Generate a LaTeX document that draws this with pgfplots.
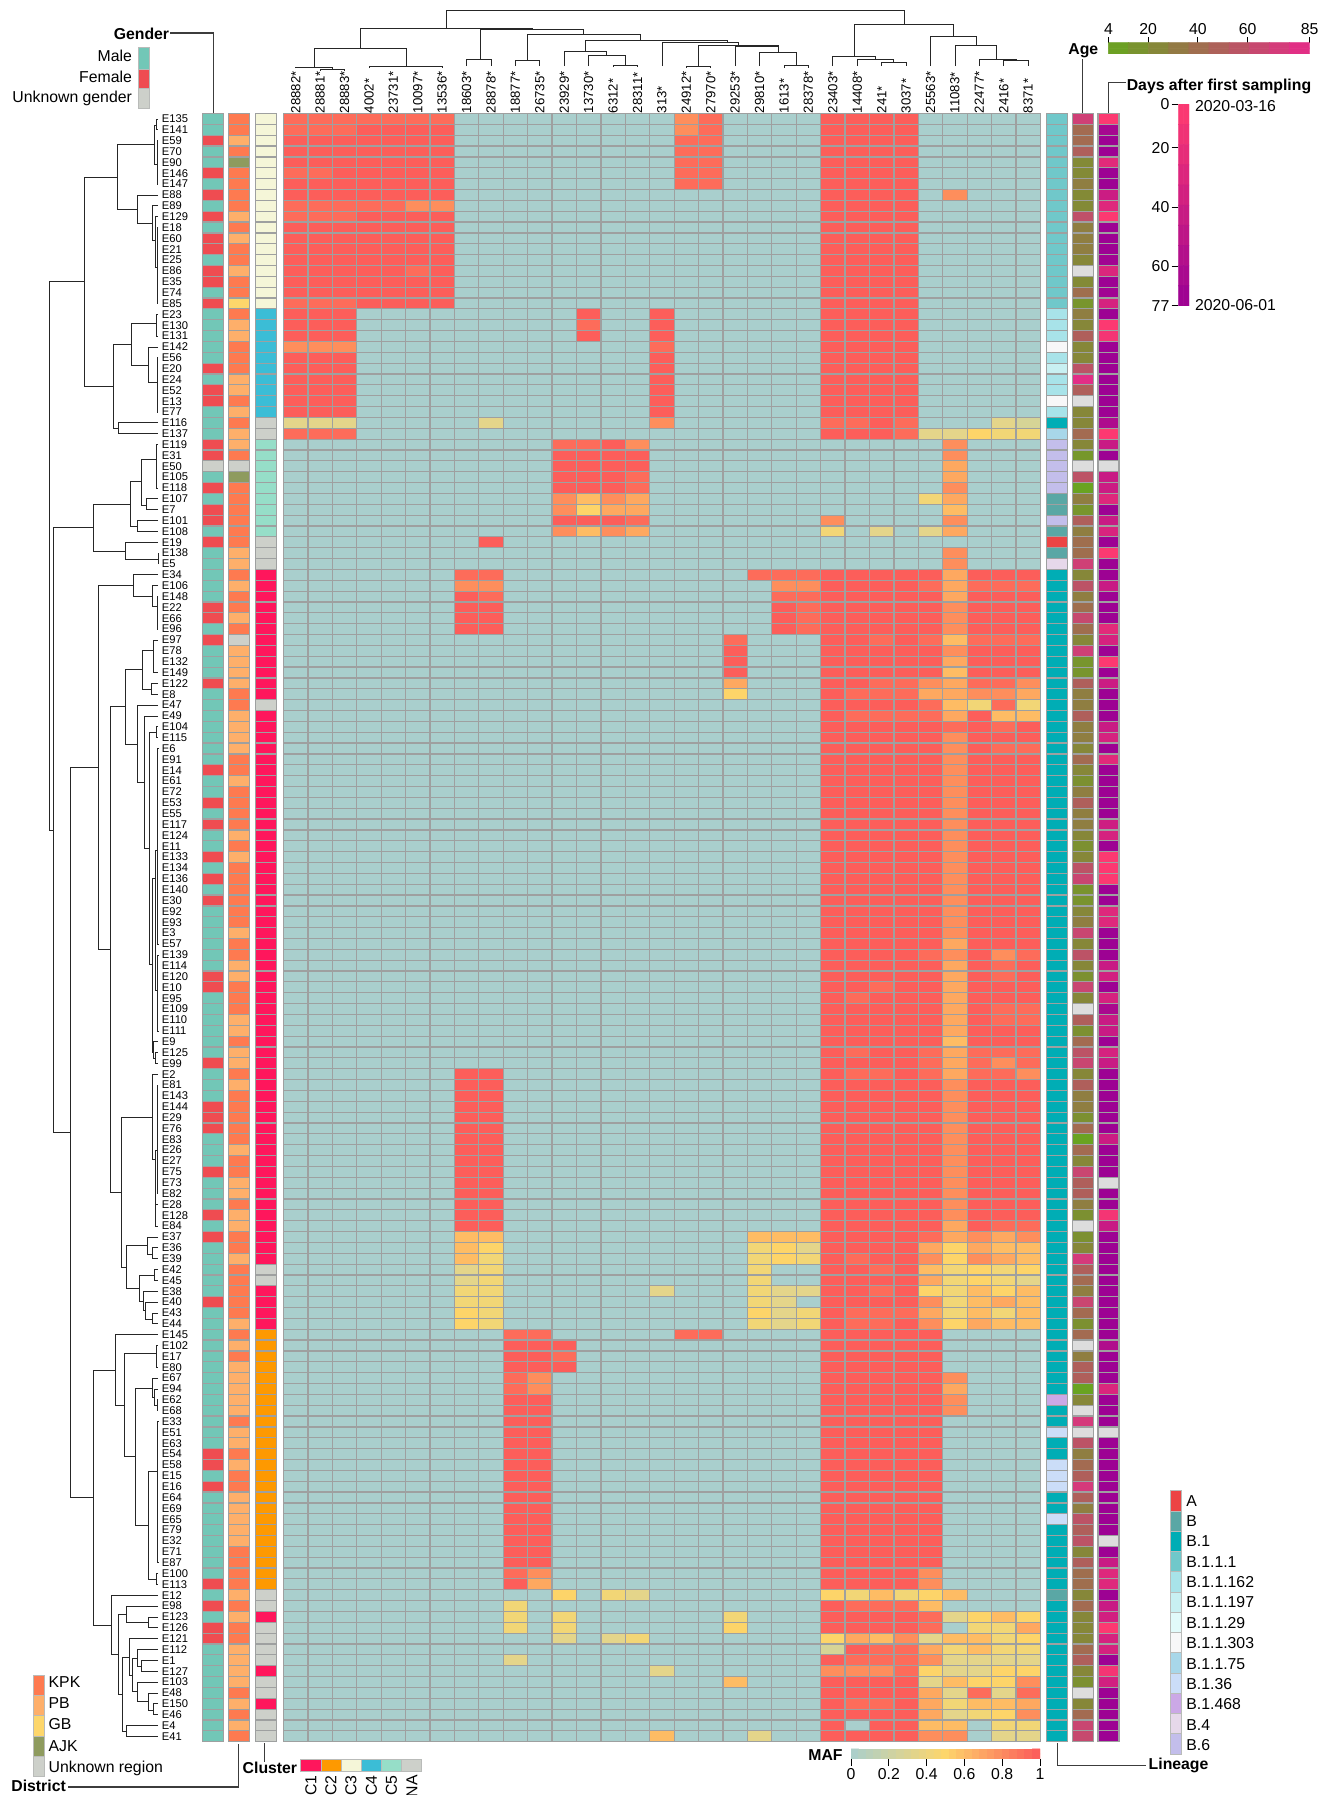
\documentclass[border=0pt]{standalone}
\usepackage{fontspec}
\setmainfont{Liberation Sans}
\usepackage{pgfplots}
\usepackage{pgfplotstable}
\pgfplotsset{compat=1.18}
\definecolor{cellgray}{RGB}{158,160,160}
\definecolor{swgray}{RGB}{185,187,185}
\definecolor{lnk}{RGB}{60,60,60}
\newcommand\lgf{\fontsize{7.9}{9}\selectfont}
\newcommand\bdf{\fontsize{7.9}{9}\selectfont\bfseries}
\pgfdeclareplotmark{cellM}{\pgfpathrectangle{\pgfpoint{-6.105pt}{-2.714pt}}{\pgfpoint{12.21pt}{5.428pt}}\pgfusepathqfillstroke}
\pgfdeclareplotmark{cellA}{\pgfpathrectangle{\pgfpoint{-5.25pt}{-2.714pt}}{\pgfpoint{10.5pt}{5.428pt}}\pgfusepathqfillstroke}
% name gender district cluster lineage age days, then MAF bins (0 none ... 9 close to 1) of the 31 positions
\pgfplotstableread{
name g d k l a t c1 c2 c3 c4 c5 c6 c7 c8 c9 c10 c11 c12 c13 c14 c15 c16 c17 c18 c19 c20 c21 c22 c23 c24 c25 c26 c27 c28 c29 c30 c31
E135 0 0 2 3 70 2   8 8 8 8 8 8 8  0 0  0 0  0 0 0 0  0  7 8  0  0 0 0  9 9 9 9  0  0  0 0 0
E141 0 0 2 3 42 68  8 8 8 9 9 9 9  0 0  0 0  0 0 0 0  0  7 8  0  0 0 0  9 9 9 9  0  0  0 0 0
E59 1 1 2 3 42 75   9 9 9 9 9 9 9  0 0  0 0  0 0 0 0  0  8 8  0  0 0 0  9 9 9 9  0  0  0 0 0
E70 0 0 2 3 50 75   9 9 9 9 9 9 9  0 0  0 0  0 0 0 0  0  8 8  0  0 0 0  9 9 9 9  0  0  0 0 0
E90 0 3 2 3 22 22   9 9 9 9 9 9 9  0 0  0 0  0 0 0 0  0  8 8  0  0 0 0  9 9 9 9  0  0  0 0 0
E146 1 0 2 3 22 75  8 8 9 9 9 9 9  0 0  0 0  0 0 0 0  0  8 8  0  0 0 0  9 9 9 9  0  0  0 0 0
E147 0 0 2 3 30 75  9 9 9 9 9 9 9  0 0  0 0  0 0 0 0  0  8 8  0  0 0 0  9 9 9 9  0  0  0 0 0
E88 1 0 2 3 22 40   9 9 9 9 9 9 9  0 0  0 0  0 0 0 0  0  0 0  0  0 0 0  9 9 9 9  0  7  0 0 0
E89 0 0 2 3 22 25   8 8 8 8 8 7 7  0 0  0 0  0 0 0 0  0  0 0  0  0 0 0  9 9 9 9  0  0  0 0 0
E129 1 1 2 3 60 2   8 8 8 9 9 9 9  0 0  0 0  0 0 0 0  0  0 0  0  0 0 0  9 9 9 9  0  0  0 0 0
E18 0 0 2 3 30 75   9 9 9 9 9 9 9  0 0  0 0  0 0 0 0  0  0 0  0  0 0 0  9 9 9 9  0  0  0 0 0
E60 1 1 2 3 30 75   9 9 9 9 9 9 9  0 0  0 0  0 0 0 0  0  0 0  0  0 0 0  9 9 9 9  0  0  0 0 0
E21 1 0 2 3 30 75   9 9 9 9 9 9 9  0 0  0 0  0 0 0 0  0  0 0  0  0 0 0  9 9 9 9  0  0  0 0 0
E25 0 0 2 3 24 72   9 9 9 9 9 9 9  0 0  0 0  0 0 0 0  0  0 0  0  0 0 0  9 9 9 9  0  0  0 0 0
E86 1 1 2 3 0 28    9 9 9 9 9 8 9  0 0  0 0  0 0 0 0  0  0 0  0  0 0 0  9 9 9 9  0  0  0 0 0
E35 1 0 2 3 22 75   9 9 9 9 9 9 9  0 0  0 0  0 0 0 0  0  0 0  0  0 0 0  9 9 9 9  0  0  0 0 0
E74 0 0 2 3 40 72   9 9 9 9 9 9 9  0 0  0 0  0 0 0 0  0  0 0  0  0 0 0  9 9 9 9  0  0  0 0 0
E85 1 2 2 3 15 32   8 8 8 9 9 9 9  0 0  0 0  0 0 0 0  0  0 0  0  0 0 0  9 9 9 9  0  0  0 0 0
E23 0 0 3 4 30 75   9 9 9 0 0 0 0  0 0  0 0  0 9 0 0  9  0 0  0  0 0 0  9 9 9 9  0  0  0 0 0
E130 0 1 3 4 24 2   9 9 9 0 0 0 0  0 0  0 0  0 8 0 0  9  0 0  0  0 0 0  9 9 9 9  0  0  0 0 0
E131 0 1 3 4 50 8   9 9 9 0 0 0 0  0 0  0 0  0 9 0 0  9  0 0  0  0 0 0  9 9 9 9  0  0  0 0 0
E142 0 0 3 7 24 75  7 7 7 0 0 0 0  0 0  0 0  0 0 0 0  8  0 0  0  0 0 0  9 9 9 9  0  0  0 0 0
E56 0 0 3 4 24 75   9 9 9 0 0 0 0  0 0  0 0  0 0 0 0  9  0 0  0  0 0 0  9 9 9 9  0  0  0 0 0
E20 1 0 3 5 58 75   9 9 9 0 0 0 0  0 0  0 0  0 0 0 0  9  0 0  0  0 0 0  9 9 9 9  0  0  0 0 0
E24 0 1 3 4 82 75   9 9 9 0 0 0 0  0 0  0 0  0 0 0 0  9  0 0  0  0 0 0  9 9 9 9  0  0  0 0 0
E52 1 1 3 4 50 75   9 9 9 0 0 0 0  0 0  0 0  0 0 0 0  9  0 0  0  0 0 0  9 9 9 9  0  0  0 0 0
E13 1 0 3 7 0 75    9 9 9 0 0 0 0  0 0  0 0  0 0 0 0  9  0 0  0  0 0 0  9 9 9 9  0  0  0 0 0
E77 0 1 3 4 24 75   9 9 9 0 0 0 0  0 0  0 0  0 0 0 0  9  0 0  0  0 0 0  9 9 9 9  0  0  0 0 0
E116 0 0 5 2 24 62  2 2 2 0 0 0 0  0 2  0 0  0 0 0 0  7  0 0  0  0 0 0  8 8 9 8  0  0  0 2 1
E137 0 1 5 8 42 2   8 8 8 0 0 0 0  0 0  0 0  0 0 0 0  0  0 0  0  0 0 0  9 9 9 8  2  2  4 3 3
E119 1 1 4 12 24 42 0 0 0 0 0 0 0  0 0  0 0  8 8 9 7  0  0 0  0  0 0 0  0 0 0 0  0  7  0 0 0
E31 1 0 4 12 14 75  0 0 0 0 0 0 0  0 0  0 0  9 9 9 9  0  0 0  0  0 0 0  0 0 0 0  0  7  0 0 0
E50 2 4 4 12 0 -5   0 0 0 0 0 0 0  0 0  0 0  9 9 9 9  0  0 0  0  0 0 0  0 0 0 0  0  6  0 0 0
E105 0 3 4 12 58 42 0 0 0 0 0 0 0  0 0  0 0  9 9 9 8  0  0 0  0  0 0 0  0 0 0 0  0  6  0 0 0
E118 1 0 4 12 6 40  0 0 0 0 0 0 0  0 0  0 0  9 9 9 8  0  0 0  0  0 0 0  0 0 0 0  0  7  0 0 0
E107 0 0 4 1 30 25  0 0 0 0 0 0 0  0 0  0 0  7 5 7 6  0  0 0  0  0 0 0  0 0 0 0  3  6  0 0 0
E7 1 0 4 1 15 75    0 0 0 0 0 0 0  0 0  0 0  7 4 6 6  0  0 0  0  0 0 0  0 0 0 0  0  5  0 0 0
E101 1 0 4 12 50 42 0 0 0 0 0 0 0  0 0  0 0  9 9 9 8  0  0 0  0  0 0 0  7 0 0 0  0  7  0 0 0
E108 0 0 4 1 30 30  0 0 0 0 0 0 0  0 0  0 0  7 5 7 6  0  0 0  0  0 0 0  3 0 2 0  2  6  0 0 0
E19 1 0 5 0 40 75   0 0 0 0 0 0 0  0 9  0 0  0 0 0 0  0  0 0  0  0 0 0  0 0 0 0  0  0  0 0 0
E138 0 1 5 1 40 2   0 0 0 0 0 0 0  0 0  0 0  0 0 0 0  0  0 0  0  0 0 0  0 0 0 0  0  7  0 0 0
E5 0 1 5 11 70 75   0 0 0 0 0 0 0  0 0  0 0  0 0 0 0  0  0 0  0  0 0 0  0 0 0 0  0  7  0 0 0
E34 0 0 0 2 24 75   0 0 0 0 0 0 0  8 8  0 0  0 0 0 0  0  0 0  0  8 8 8  9 9 9 9  9  6  9 9 9
E106 0 1 0 2 58 42  0 0 0 0 0 0 0  7 7  0 0  0 0 0 0  0  0 0  0  0 7 7  9 9 9 9  8  6  8 8 8
E148 0 0 0 2 30 75  0 0 0 0 0 0 0  9 8  0 0  0 0 0 0  0  0 0  0  0 8 8  9 9 9 9  9  6  9 9 9
E22 1 0 0 2 40 75   0 0 0 0 0 0 0  9 9  0 0  0 0 0 0  0  0 0  0  0 9 8  9 9 9 9  9  7  9 9 9
E66 1 1 0 2 64 75   0 0 0 0 0 0 0  9 9  0 0  0 0 0 0  0  0 0  0  0 9 8  9 9 9 9  9  7  9 9 9
E96 0 0 0 2 40 22   0 0 0 0 0 0 0  9 9  0 0  0 0 0 0  0  0 0  0  0 9 8  9 9 9 9  9  7  9 9 9
E97 1 4 0 2 24 32   0 0 0 0 0 0 0  0 0  0 0  0 0 0 0  0  0 0  8  0 0 0  9 9 8 9  8  5  8 8 8
E78 0 1 0 2 70 75   0 0 0 0 0 0 0  0 0  0 0  0 0 0 0  0  0 0  9  0 0 0  9 9 9 9  9  7  9 9 9
E132 0 1 0 2 15 2   0 0 0 0 0 0 0  0 0  0 0  0 0 0 0  0  0 0  9  0 0 0  9 9 9 9  9  6  9 9 9
E149 0 1 0 2 15 75  0 0 0 0 0 0 0  0 0  0 0  0 0 0 0  0  0 0  9  0 0 0  9 9 9 9  9  5  9 9 9
E122 1 1 0 2 50 40  0 0 0 0 0 0 0  0 0  0 0  0 0 0 0  0  0 0  6  0 0 0  9 9 8 8  7  6  8 8 7
E8 0 0 0 2 30 75    0 0 0 0 0 0 0  0 0  0 0  0 0 0 0  0  0 0  4  0 0 0  9 8 8 8  6  6  7 7 6
E47 0 0 5 2 30 75   0 0 0 0 0 0 0  0 0  0 0  0 0 0 0  0  0 0  0  0 0 0  9 9 9 9  8  5  3 8 3
E49 0 1 0 2 50 75   0 0 0 0 0 0 0  0 0  0 0  0 0 0 0  0  0 0  0  0 0 0  9 8 8 8  8  6  9 5 5
E104 0 1 0 2 30 42  0 0 0 0 0 0 0  0 0  0 0  0 0 0 0  0  0 0  0  0 0 0  9 9 9 9  9  8  9 8 9
E115 0 1 0 2 30 32  0 0 0 0 0 0 0  0 0  0 0  0 0 0 0  0  0 0  0  0 0 0  9 9 9 9  9  7  9 9 9
E6 0 1 0 2 24 75    0 0 0 0 0 0 0  0 0  0 0  0 0 0 0  0  0 0  0  0 0 0  9 9 9 9  9  7  9 8 8
E91 0 0 0 2 42 22   0 0 0 0 0 0 0  0 0  0 0  0 0 0 0  0  0 0  0  0 0 0  9 9 9 9  9  7  9 9 9
E14 1 0 0 2 24 75   0 0 0 0 0 0 0  0 0  0 0  0 0 0 0  0  0 0  0  0 0 0  9 9 9 9  9  7  9 9 9
E61 0 1 0 2 18 75   0 0 0 0 0 0 0  0 0  0 0  0 0 0 0  0  0 0  0  0 0 0  9 9 9 9  9  7  9 9 9
E72 0 0 0 2 30 75   0 0 0 0 0 0 0  0 0  0 0  0 0 0 0  0  0 0  0  0 0 0  9 9 9 9  9  7  9 9 9
E53 1 0 0 2 50 75   0 0 0 0 0 0 0  0 0  0 0  0 0 0 0  0  0 0  0  0 0 0  9 9 9 9  9  7  9 9 9
E55 0 0 0 2 30 75   0 0 0 0 0 0 0  0 0  0 0  0 0 0 0  0  0 0  0  0 0 0  9 9 9 9  9  7  9 9 9
E117 1 0 0 2 30 38  0 0 0 0 0 0 0  0 0  0 0  0 0 0 0  0  0 0  0  0 0 0  9 9 9 9  9  7  9 9 9
E124 0 1 0 2 24 32  0 0 0 0 0 0 0  0 0  0 0  0 0 0 0  0  0 0  0  0 0 0  9 9 9 9  9  7  9 9 9
E11 0 0 0 2 18 75   0 0 0 0 0 0 0  0 0  0 0  0 0 0 0  0  0 0  0  0 0 0  9 9 9 9  9  7  9 9 9
E133 1 1 0 2 24 2   0 0 0 0 0 0 0  0 0  0 0  0 0 0 0  0  0 0  0  0 0 0  9 9 9 9  9  7  9 9 9
E134 0 0 0 2 58 2   0 0 0 0 0 0 0  0 0  0 0  0 0 0 0  0  0 0  0  0 0 0  9 9 9 9  9  7  9 9 9
E136 1 0 0 2 66 2   0 0 0 0 0 0 0  0 0  0 0  0 0 0 0  0  0 0  0  0 0 0  9 9 9 9  9  7  9 9 9
E140 0 0 0 2 16 75  0 0 0 0 0 0 0  0 0  0 0  0 0 0 0  0  0 0  0  0 0 0  9 9 9 9  9  7  9 9 9
E30 1 0 0 2 16 75   0 0 0 0 0 0 0  0 0  0 0  0 0 0 0  0  0 0  0  0 0 0  9 9 9 9  9  7  9 9 9
E92 0 0 0 2 24 25   0 0 0 0 0 0 0  0 0  0 0  0 0 0 0  0  0 0  0  0 0 0  9 9 9 9  9  7  9 9 9
E93 0 0 0 2 30 25   0 0 0 0 0 0 0  0 0  0 0  0 0 0 0  0  0 0  0  0 0 0  9 9 9 9  9  7  9 9 9
E3 0 1 0 2 66 75    0 0 0 0 0 0 0  0 0  0 0  0 0 0 0  0  0 0  0  0 0 0  9 9 9 9  9  7  9 9 9
E57 0 0 0 2 24 75   0 0 0 0 0 0 0  0 0  0 0  0 0 0 0  0  0 0  0  0 0 0  9 9 9 9  9  6  9 9 9
E139 0 0 0 2 58 75  0 0 0 0 0 0 0  0 0  0 0  0 0 0 0  0  0 0  0  0 0 0  9 9 9 9  8  7  9 7 8
E114 0 1 0 2 24 42  0 0 0 0 0 0 0  0 0  0 0  0 0 0 0  0  0 0  0  0 0 0  9 9 9 9  9  6  9 8 9
E120 1 1 0 2 18 35  0 0 0 0 0 0 0  0 0  0 0  0 0 0 0  0  0 0  0  0 0 0  9 9 9 9  9  6  9 8 9
E10 1 0 0 2 66 75   0 0 0 0 0 0 0  0 0  0 0  0 0 0 0  0  0 0  0  0 0 0  9 9 8 9  9  6  9 9 9
E95 0 0 0 2 24 32   0 0 0 0 0 0 0  0 0  0 0  0 0 0 0  0  0 0  0  0 0 0  9 8 9 9  9  6  9 9 9
E109 0 0 0 2 0 65   0 0 0 0 0 0 0  0 0  0 0  0 0 0 0  0  0 0  0  0 0 0  9 9 9 9  9  6  9 8 8
E110 0 1 0 2 50 42  0 0 0 0 0 0 0  0 0  0 0  0 0 0 0  0  0 0  0  0 0 0  9 9 9 9  9  6  9 8 8
E111 0 1 0 2 18 42  0 0 0 0 0 0 0  0 0  0 0  0 0 0 0  0  0 0  0  0 0 0  9 9 9 9  9  6  9 9 9
E9 0 0 0 2 42 75    0 0 0 0 0 0 0  0 0  0 0  0 0 0 0  0  0 0  0  0 0 0  9 9 9 9  9  5  9 9 9
E125 0 1 0 2 58 32  0 0 0 0 0 0 0  0 0  0 0  0 0 0 0  0  0 0  0  0 0 0  9 8 9 9  8  6  8 8 8
E99 1 1 0 2 66 42   0 0 0 0 0 0 0  0 0  0 0  0 0 0 0  0  0 0  0  0 0 0  9 9 9 9  8  6  8 7 8
E2 0 0 0 2 24 75    0 0 0 0 0 0 0  9 9  0 0  0 0 0 0  0  0 0  0  0 0 0  9 8 8 9  8  6  8 8 7
E81 0 1 0 2 50 75   0 0 0 0 0 0 0  9 9  0 0  0 0 0 0  0  0 0  0  0 0 0  9 9 9 9  9  7  9 9 9
E143 0 0 0 2 30 75  0 0 0 0 0 0 0  9 9  0 0  0 0 0 0  0  0 0  0  0 0 0  9 9 9 9  9  7  9 9 9
E144 1 0 0 2 30 75  0 0 0 0 0 0 0  9 9  0 0  0 0 0 0  0  0 0  0  0 0 0  9 9 9 9  9  7  9 9 9
E29 1 0 0 2 18 75   0 0 0 0 0 0 0  9 9  0 0  0 0 0 0  0  0 0  0  0 0 0  9 9 9 9  9  7  9 9 9
E76 1 0 0 2 42 75   0 0 0 0 0 0 0  9 9  0 0  0 0 0 0  0  0 0  0  0 0 0  9 9 9 9  9  7  9 9 9
E83 0 0 0 2 6 40    0 0 0 0 0 0 0  9 9  0 0  0 0 0 0  0  0 0  0  0 0 0  9 9 9 9  9  7  9 9 9
E26 0 1 0 2 42 75   0 0 0 0 0 0 0  9 9  0 0  0 0 0 0  0  0 0  0  0 0 0  9 9 9 9  9  7  9 9 9
E27 0 0 0 2 24 75   0 0 0 0 0 0 0  9 9  0 0  0 0 0 0  0  0 0  0  0 0 0  9 9 9 9  9  7  9 9 9
E75 1 0 0 2 66 75   0 0 0 0 0 0 0  9 9  0 0  0 0 0 0  0  0 0  0  0 0 0  9 9 9 9  9  7  9 9 9
E73 0 1 0 2 50 -5   0 0 0 0 0 0 0  9 9  0 0  0 0 0 0  0  0 0  0  0 0 0  9 9 9 9  9  7  9 9 9
E82 0 1 0 2 50 75   0 0 0 0 0 0 0  9 9  0 0  0 0 0 0  0  0 0  0  0 0 0  9 9 9 9  9  7  9 9 9
E28 0 0 0 2 30 75   0 0 0 0 0 0 0  9 9  0 0  0 0 0 0  0  0 0  0  0 0 0  9 9 9 9  9  7  9 9 9
E128 1 1 0 2 18 8   0 0 0 0 0 0 0  9 9  0 0  0 0 0 0  0  0 0  0  0 0 0  9 9 9 9  9  7  9 9 9
E84 0 1 0 2 0 42    0 0 0 0 0 0 0  9 9  0 0  0 0 0 0  0  0 0  0  0 0 0  9 9 9 9  9  6  9 8 8
E37 1 0 0 2 18 75   0 0 0 0 0 0 0  5 5  0 0  0 0 0 0  0  0 0  0  5 5 5  9 9 9 9  8  6  7 6 7
E36 0 0 0 2 24 75   0 0 0 0 0 0 0  5 4  0 0  0 0 0 0  0  0 0  0  3 4 2  9 9 9 9  6  4  6 5 5
E39 0 1 0 2 74 75   0 0 0 0 0 0 0  5 3  0 0  0 0 0 0  0  0 0  0  3 4 3  9 8 9 9  7  4  7 6 5
E42 0 0 5 2 50 75   0 0 0 0 0 0 0  2 3  0 0  0 0 0 0  0  0 0  0  3 0 0  9 9 8 9  5  3  4 3 4
E45 0 0 5 2 42 75   0 0 0 0 0 0 0  2 3  0 0  0 0 0 0  0  0 0  0  3 0 0  9 9 9 9  6  3  4 3 2
E38 0 0 0 2 30 75   0 0 0 0 0 0 0  3 3  0 0  0 0 0 0  2  0 0  0  3 2 2  9 9 8 9  4  3  5 4 5
E40 1 0 0 2 66 75   0 0 0 0 0 0 0  3 3  0 0  0 0 0 0  0  0 0  0  3 2 0  9 9 9 9  7  3  5 6 5
E43 0 0 0 2 42 75   0 0 0 0 0 0 0  4 3  0 0  0 0 0 0  0  0 0  0  4 2 3  9 8 8 8  6  3  5 3 5
E44 0 1 0 2 18 75   0 0 0 0 0 0 0  4 3  0 0  0 0 0 0  0  0 0  0  3 2 3  9 8 8 9  7  4  6 5 5
E145 0 0 1 2 42 75  0 0 0 0 0 0 0  0 0  8 8  0 0 0 0  0  8 8  0  0 0 0  9 9 9 9  9  0  0 0 0
E102 0 1 1 2 0 60   0 0 0 0 0 0 0  0 0  9 9  9 0 0 0  0  0 0  0  0 0 0  9 9 9 9  9  0  0 0 0
E17 0 0 1 2 30 75   0 0 0 0 0 0 0  0 0  9 9  8 0 0 0  0  0 0  0  0 0 0  9 9 9 9  9  0  0 0 0
E80 0 1 1 2 50 75   0 0 0 0 0 0 0  0 0  9 9  9 0 0 0  0  0 0  0  0 0 0  9 9 9 9  9  0  0 0 0
E67 0 1 1 2 50 75   0 0 0 0 0 0 0  0 0  8 7  0 0 0 0  0  0 0  0  0 0 0  9 9 9 9  9  7  0 0 0
E94 0 1 1 2 6 28    0 0 0 0 0 0 0  0 0  8 7  0 0 0 0  0  0 0  0  0 0 0  9 9 9 9  9  6  0 0 0
E62 0 1 1 10 24 75  0 0 0 0 0 0 0  0 0  9 9  0 0 0 0  0  0 0  0  0 0 0  9 9 9 9  9  7  0 0 0
E68 0 1 1 2 0 75    0 0 0 0 0 0 0  0 0  9 9  0 0 0 0  0  0 0  0  0 0 0  9 9 9 9  9  7  0 0 0
E33 0 0 1 2 74 75   0 0 0 0 0 0 0  0 0  9 9  0 0 0 0  0  0 0  0  0 0 0  9 9 9 9  9  0  0 0 0
E51 0 1 1 9 0 -5    0 0 0 0 0 0 0  0 0  9 9  0 0 0 0  0  0 0  0  0 0 0  9 9 9 9  9  0  0 0 0
E63 0 1 1 2 58 75   0 0 0 0 0 0 0  0 0  9 9  0 0 0 0  0  0 0  0  0 0 0  9 9 9 9  9  0  0 0 0
E54 1 0 1 2 30 75   0 0 0 0 0 0 0  0 0  9 9  0 0 0 0  0  0 0  0  0 0 0  9 9 9 9  9  0  0 0 0
E58 1 1 1 9 42 75   0 0 0 0 0 0 0  0 0  9 9  0 0 0 0  0  0 0  0  0 0 0  9 9 9 9  9  0  0 0 0
E15 0 0 1 9 50 75   0 0 0 0 0 0 0  0 0  9 9  0 0 0 0  0  0 0  0  0 0 0  9 9 9 9  9  0  0 0 0
E16 1 0 1 9 74 75   0 0 0 0 0 0 0  0 0  9 9  0 0 0 0  0  0 0  0  0 0 0  9 9 9 9  9  0  0 0 0
E64 0 1 1 2 50 75   0 0 0 0 0 0 0  0 0  9 9  0 0 0 0  0  0 0  0  0 0 0  9 9 9 9  9  0  0 0 0
E69 0 1 1 2 30 75   0 0 0 0 0 0 0  0 0  9 9  0 0 0 0  0  0 0  0  0 0 0  9 9 9 9  9  0  0 0 0
E65 0 1 1 9 58 75   0 0 0 0 0 0 0  0 0  9 9  0 0 0 0  0  0 0  0  0 0 0  9 9 9 9  9  0  0 0 0
E79 0 1 1 2 50 75   0 0 0 0 0 0 0  0 0  9 9  0 0 0 0  0  0 0  0  0 0 0  9 9 9 9  9  0  0 0 0
E32 0 1 1 2 58 -5   0 0 0 0 0 0 0  0 0  9 9  0 0 0 0  0  0 0  0  0 0 0  9 9 9 9  9  0  0 0 0
E71 0 0 1 2 24 75   0 0 0 0 0 0 0  0 0  9 9  0 0 0 0  0  0 0  0  0 0 0  9 9 9 9  9  0  0 0 0
E87 0 0 1 2 50 42   0 0 0 0 0 0 0  0 0  9 9  0 0 0 0  0  0 0  0  0 0 0  9 9 9 9  9  0  0 0 0
E100 0 0 1 2 40 25  0 0 0 0 0 0 0  0 0  8 7  0 0 0 0  0  0 0  0  0 0 0  9 9 9 9  7  0  0 0 0
E113 1 0 1 2 40 25  0 0 0 0 0 0 0  0 0  9 6  0 0 0 0  0  0 0  0  0 0 0  9 9 9 9  7  0  0 0 0
E12 0 1 5 1 24 75   0 0 0 0 0 0 0  0 0  0 0  4 0 3 2  0  0 0  0  0 0 0  4 3 5 3  4  5  0 0 0
E98 1 0 5 2 42 42   0 0 0 0 0 0 0  0 0  3 0  0 0 0 0  0  0 0  0  0 0 0  9 8 8 8  5  0  0 0 0
E123 0 1 0 2 24 35  0 0 0 0 0 0 0  0 0  3 0  3 0 0 0  0  0 0  3  0 0 0  9 9 9 9  8  2  4 5 4
E126 1 0 5 2 24 2   0 0 0 0 0 0 0  0 0  3 0  3 0 0 0  0  0 0  4  0 0 0  9 9 9 9  8  0  3 3 6
E121 1 0 5 2 24 32  0 0 0 0 0 0 0  0 0  0 0  2 0 2 3  0  0 0  0  0 0 0  4 6 5 7  2  5  5 3 4
E112 0 1 5 2 42 32  0 0 0 0 0 0 0  0 0  0 0  0 0 0 0  0  0 0  0  0 0 0  1 9 8 8  6  3  5 3 3
E1 0 1 5 2 50 75    0 0 0 0 0 0 0  0 0  2 0  0 0 0 0  0  0 0  0  0 0 0  9 8 8 8  7  2  2 2 2
E127 0 1 0 2 24 8   0 0 0 0 0 0 0  0 0  0 0  0 0 0 0  2  0 0  0  0 0 0  7 7 7 8  4  2  2 4 4
E103 0 1 5 2 18 35  0 0 0 0 0 0 0  0 0  0 0  0 0 0 0  0  0 0  5  0 0 0  9 9 9 9  2  5  4 4 7
E48 0 0 5 2 0 75    0 0 0 0 0 0 0  0 0  0 0  0 0 0 0  0  0 0  0  0 0 0  9 9 9 9  6  2  8 2 8
E150 0 1 0 2 24 75  0 0 0 0 0 0 0  0 0  0 0  0 0 0 0  0  0 0  0  0 0 0  9 8 8 9  6  3  5 5 6
E46 0 0 5 2 42 75   0 0 0 0 0 0 0  0 0  0 0  0 0 0 0  0  0 0  0  0 0 0  9 9 9 9  6  2  3 4 7
E4 0 1 5 2 66 75    0 0 0 0 0 0 0  0 0  0 0  0 0 0 0  0  0 0  0  0 0 0  9 0 9 9  5  5  0 3 3
E41 0 0 5 2 64 75   0 0 0 0 0 0 0  0 0  0 0  0 0 0 0  5  0 0  0  2 0 0  9 9 9 9  7  7  0 2 2
}\heat
\newcommand\swatch[5]{\addplot[no markers,fill={#5},draw=swgray,line width=.5pt] coordinates {(#1,#2)(#3,#2)(#3,#4)(#1,#4)} --cycle;}
\newcommand\lnkline[1]{\addplot[no markers,color=lnk,line width=.55pt] coordinates {#1};}
% one annotation column: centre x in px, column, colormap, meta min, meta max, extras
\newcommand\annot[6]{%
\begin{axis}[at={({(#1-10.5)*0.5pt},{53.3*0.5pt})},anchor=south west,scale only axis,width=10.5pt,height=814.1pt,
 xmin=-0.5,xmax=0.5,ymin=-0.5,ymax=149.5,y dir=reverse,clip=false,axis line style={draw=none},major tick length=0pt,
 xtick=\empty,ytick=\empty,colormap={cm#2}{#3},point meta min=#4,point meta max=#5,#6]
\addplot[scatter,only marks,scatter src=explicit,mark=cellA,mark options={solid,line width=.6pt},
 scatter/use mapped color={draw=cellgray,fill=mapped color}] table[x expr=0,y expr=\coordindex,meta=#2]{\heat};
\end{axis}}
\begin{document}
\begin{tikzpicture}[x=1pt,y=1pt]
\path[use as bounding box] (0,0) rectangle (666.5pt,897.5pt);
% page axis in pixel units: trees, keys and their titles
\begin{axis}[at={(0,0)},anchor=south west,scale only axis,width=666.5pt,height=897.5pt,xmin=0,xmax=1333,ymin=0,ymax=1795,y dir=reverse,hide axis,clip=false]
% row tree
\addplot[no markers,unbounded coords=jump,color=black!85,line width=.5pt] coordinates {
(84.7,281.7)(49.3,281.7)(49.3,830)(53.7,830)(nan,nan)
(117,177)(84.7,177)(84.7,386.7)(113,386.7)(nan,nan)
(154,144.7)(117,144.7)(117,209.3)(137,209.3)(nan,nan)
(156.7,125)(154,125)(154,164)(157.3,164)(nan,nan)
(158,119)(156.7,119)(156.7,129.9)(158,129.9)(nan,nan)
(158,140.7)(157.3,140.7)(157.3,184.1)(158,184.1)(nan,nan)
(158,195)(137,195)(137,223.3)(152.3,223.3)(nan,nan)
(158,205.8)(152.3,205.8)(152.3,240)(155.7,240)(nan,nan)
(158,216.7)(155.7,216.7)(155.7,267)(157.3,267)(nan,nan)
(158,227.6)(157.3,227.6)(157.3,303.5)(158,303.5)(nan,nan)
(131,344.3)(113,344.3)(113,428.3)(118.3,428.3)(nan,nan)
(156.7,323)(131,323)(131,365.3)(148.3,365.3)(nan,nan)
(158,314.4)(156.7,314.4)(156.7,336.1)(158,336.1)(nan,nan)
(158,347)(148.3,347)(148.3,382.3)(157.3,382.3)(nan,nan)
(158,357.8)(157.3,357.8)(157.3,412.1)(158,412.1)(nan,nan)
(158,422.9)(118.3,422.9)(118.3,433.8)(158,433.8)(nan,nan)
(93.3,527.7)(53.7,527.7)(53.7,1132.7)(70,1132.7)(nan,nan)
(130.7,504.3)(93.3,504.3)(93.3,551)(125,551)(nan,nan)
(141.3,481.7)(130.7,481.7)(130.7,526.7)(137.3,526.7)(nan,nan)
(158,520.6)(137.3,520.6)(137.3,531.5)(158,531.5)(nan,nan)
(156,459)(141.3,459)(141.3,505)(146,505)(nan,nan)
(158,444.7)(156,444.7)(156,488.1)(158,488.1)(nan,nan)
(158,498.9)(146,498.9)(146,509.8)(158,509.8)(nan,nan)
(158,542.3)(125,542.3)(125,559)(158,559)(nan,nan)
(158.3,553.2)(158.3,564.1)(nan,nan)
(98.3,767.7)(70,767.7)(70,1497.7)(93.3,1497.7)(nan,nan)
(133.7,585.7)(98.3,585.7)(98.3,949.3)(110,949.3)(nan,nan)
(158,574.9)(133.7,574.9)(133.7,596.3)(152.3,596.3)(nan,nan)
(158,585.8)(152.3,585.8)(152.3,606.7)(157.3,606.7)(nan,nan)
(158,596.6)(157.3,596.6)(157.3,629.2)(158,629.2)(nan,nan)
(125.7,706.7)(110,706.7)(110,1192)(121.3,1192)(nan,nan)
(142.3,669.3)(125.7,669.3)(125.7,744.3)(137.3,744.3)(nan,nan)
(153.7,650)(142.3,650)(142.3,689.3)(151,689.3)(nan,nan)
(158,640)(153.7,640)(153.7,672.6)(158,672.6)(nan,nan)
(158,683.5)(151,683.5)(151,694.3)(158,694.3)(nan,nan)
(158,705.2)(137.3,705.2)(137.3,782.3)(144.3,782.3)(nan,nan)
(158,716)(144.3,716)(144.3,848.7)(149,848.7)(nan,nan)
(156,732.7)(149,732.7)(149,964.3)(152.7,964.3)(nan,nan)
(158,726.9)(156,726.9)(156,737.7)(158,737.7)(nan,nan)
(155.5,878)(152.7,878)(152.7,1052)(153.5,1052)(nan,nan)
(158,748.6)(157.5,748.6)(157.5,944.7)(158,944.7)(nan,nan)
(157.5,850)(155.5,850)(155.5,990)(157.5,990)(nan,nan)
(158,955)(157.5,955)(157.5,1031)(158,1031)(nan,nan)
(158,1041.7)(153.5,1041.7)(153.5,1058)(155,1058)(nan,nan)
(158,1052.6)(155,1052.6)(155,1063.4)(158,1063.4)(nan,nan)
(152,1117)(121.3,1117)(121.3,1267.3)(126,1267.3)(nan,nan)
(158,1074.2)(152,1074.2)(152,1159.3)(155,1159.3)(nan,nan)
(158,1085.1)(157,1085.1)(157,1193.6)(158,1193.6)(nan,nan)
(157,1150)(155,1150)(155,1215)(155.5,1215)(nan,nan)
(158,1204.5)(155.5,1204.5)(155.5,1226.2)(158,1226.2)(nan,nan)
(147.3,1245.7)(126,1245.7)(126,1288.3)(139.7,1288.3)(nan,nan)
(158,1237.1)(147.3,1237.1)(147.3,1254)(152.7,1254)(nan,nan)
(158,1247.9)(152.7,1247.9)(152.7,1258.8)(158,1258.8)(nan,nan)
(154.7,1275.7)(139.7,1275.7)(139.7,1301.7)(143,1301.7)(nan,nan)
(158,1269.6)(154.7,1269.6)(154.7,1280.5)(158,1280.5)(nan,nan)
(158,1291.3)(143,1291.3)(143,1310)(145.7,1310)(nan,nan)
(158,1302.2)(145.7,1302.2)(145.7,1319)(152.3,1319)(nan,nan)
(158,1313)(152.3,1313)(152.3,1323.9)(158,1323.9)(nan,nan)
(115,1370.7)(93.3,1370.7)(93.3,1625)(111.3,1625)(nan,nan)
(158,1334.8)(115,1334.8)(115,1405.7)(124.7,1405.7)(nan,nan)
(156.7,1353.7)(124.7,1353.7)(124.7,1456.7)(135.3,1456.7)(nan,nan)
(158,1345.6)(156.7,1345.6)(156.7,1367.3)(158,1367.3)(nan,nan)
(152,1388.3)(135.3,1388.3)(135.3,1525.3)(148.3,1525.3)(nan,nan)
(158,1378.2)(152,1378.2)(152,1397)(154.7,1397)(nan,nan)
(158,1389)(154.7,1389)(154.7,1405)(157,1405)(nan,nan)
(158,1399.9)(157,1399.9)(157,1410.7)(158,1410.7)(nan,nan)
(157.7,1471.3)(148.3,1471.3)(148.3,1579)(156,1579)(nan,nan)
(158,1421.6)(157.7,1421.6)(157.7,1562.7)(158,1562.7)(nan,nan)
(158,1573.5)(156,1573.5)(156,1584.4)(158,1584.4)(nan,nan)
(158,1595.3)(111.3,1595.3)(111.3,1654.3)(118.3,1654.3)(nan,nan)
(126,1614)(118.3,1614)(118.3,1694.3)(122,1694.3)(nan,nan)
(158,1606.1)(126,1606.1)(126,1622.7)(148.3,1622.7)(nan,nan)
(158,1617)(148.3,1617)(148.3,1627.8)(158,1627.8)(nan,nan)
(129.7,1657.3)(122,1657.3)(122,1731.7)(126.7,1731.7)(nan,nan)
(158,1638.7)(129.7,1638.7)(129.7,1675)(132.7,1675)(nan,nan)
(137.3,1658.3)(132.7,1658.3)(132.7,1691.7)(137.3,1691.7)(nan,nan)
(158,1649.5)(137.3,1649.5)(137.3,1666)(141.7,1666)(nan,nan)
(158,1660.4)(141.7,1660.4)(141.7,1671.3)(158,1671.3)(nan,nan)
(158,1682.1)(137.3,1682.1)(137.3,1701.7)(148,1701.7)(nan,nan)
(158,1693)(148,1693)(148,1710)(153.3,1710)(nan,nan)
(158,1703.9)(153.3,1703.9)(153.3,1714.7)(158,1714.7)(nan,nan)
(158,1725.6)(126.7,1725.6)(126.7,1736.4)(158,1736.4)
};
% column tree
\addplot[no markers,unbounded coords=jump,color=black!85,line width=.5pt] coordinates {
(446,28)(446,10.7)(904.4,10.7)(904.4,24)(nan,nan)
(360,48.3)(360,28)(532,28)(532,29)(nan,nan)
(480,59.3)(480,29)(583.4,29)(583.4,34)(nan,nan)
(466.6,66)(466.6,59.3)(491,59.3)(491,66)(nan,nan)
(527.9,60.7)(527.9,34)(640.5,34)(640.5,40)(nan,nan)
(515.5,66)(515.5,60.7)(539.9,60.7)(539.9,66)(nan,nan)
(314.3,67)(314.3,48.3)(406,48.3)(406,66.7)(nan,nan)
(295.7,68)(295.7,67)(332.3,67)(332.3,69)(nan,nan)
(320.1,71)(320.1,69.5)(344.5,69.5)(344.5,71)(nan,nan)
(369.3,68)(369.3,66.7)(442.7,66.7)(442.7,68)(nan,nan)
(585,51.7)(585,40)(727.5,40)(727.5,42.7)(nan,nan)
(564.3,66)(564.3,51.7)(606.8,51.7)(606.8,55.3)(nan,nan)
(588.7,66)(588.7,55.3)(625.3,55.3)(625.3,65.3)(nan,nan)
(613.1,67)(613.1,65.3)(637.5,65.3)(637.5,67)(nan,nan)
(662,66)(662,42.7)(738,42.7)(738,45.3)(nan,nan)
(698.7,66.7)(698.7,45.3)(778,45.3)(778,46.7)(nan,nan)
(686.4,67.5)(686.4,66.7)(710.8,66.7)(710.8,67.5)(nan,nan)
(735.2,66)(735.2,46.7)(778,46.7)(778,52.7)(nan,nan)
(759.6,66)(759.6,52.7)(796.6,52.7)(796.6,65.3)(nan,nan)
(784,68)(784,65.3)(808.5,65.3)(808.5,68)(nan,nan)
(854.3,56.7)(854.3,24)(953.3,24)(953.3,36)(nan,nan)
(832.9,66)(832.9,56.7)(875.5,56.7)(875.5,59.3)(nan,nan)
(857.3,66)(857.3,59.3)(893.5,59.3)(893.5,62.7)(nan,nan)
(881.7,66)(881.7,62.7)(906.1,62.7)(906.1,66)(nan,nan)
(930.5,66)(930.5,36)(976.7,36)(976.7,45.3)(nan,nan)
(955,66)(955,45.3)(996.9,45.3)(996.9,59.3)(nan,nan)
(979.4,66)(979.4,59.3)(1016,59.3)(1016,60.7)(nan,nan)
(1003.8,66)(1003.8,60.7)(1028.2,60.7)(1028.2,66)
};
% connectors
\lnkline{(170,33)(213.7,33)(213.7,113)}
\lnkline{(68,1787)(238.3,1787)(238.3,1744)}
\lnkline{(264.7,1743)(264.7,1762)}
\lnkline{(1057.3,1743)(1057.3,1765.5)(1146,1765.5)}
\lnkline{(1082.8,59)(1082.8,113)}
\lnkline{(1126,82.7)(1108.4,82.7)(1108.4,113)}
% gender key
\swatch{138.3}{47.7}{149.7}{69}{rgb,255:red,114;green,199;blue,183}
\swatch{138.3}{69}{149.7}{88.5}{rgb,255:red,239;green,76;blue,81}
\swatch{138.3}{88.5}{149.7}{108.7}{rgb,255:red,205;green,208;blue,202}
\node[anchor=east,font=\bdf,inner sep=0pt] at (axis cs:169.5,33.5) {Gender};
\node[anchor=east,font=\lgf,inner sep=0pt] at (axis cs:132.3,55.5) {Male};
\node[anchor=east,font=\lgf,inner sep=0pt] at (axis cs:132.3,77) {Female};
\node[anchor=east,font=\lgf,inner sep=0pt] at (axis cs:132.3,98.5) {Unknown gender};
% district key
\swatch{33}{1675.3}{44}{1695.6}{rgb,255:red,254;green,122;blue,80}
\swatch{33}{1695.6}{44}{1715.9}{rgb,255:red,254;green,175;blue,106}
\swatch{33}{1715.9}{44}{1736.2}{rgb,255:red,253;green,214;blue,107}
\swatch{33}{1736.2}{44}{1756.5}{rgb,255:red,142;green,155;blue,94}
\swatch{33}{1756.5}{44}{1776.7}{rgb,255:red,205;green,208;blue,202}
\node[anchor=west,font=\lgf,inner sep=0pt] at (axis cs:48.3,1682) {KPK};
\node[anchor=west,font=\lgf,inner sep=0pt] at (axis cs:48.3,1703) {PB};
\node[anchor=west,font=\lgf,inner sep=0pt] at (axis cs:48.3,1724.5) {GB};
\node[anchor=west,font=\lgf,inner sep=0pt] at (axis cs:48.3,1746) {AJK};
\node[anchor=west,font=\lgf,inner sep=0pt] at (axis cs:48.3,1768) {Unknown region};
\node[anchor=west,font=\bdf,inner sep=0pt] at (axis cs:11,1786) {District};
% cluster key
\swatch{300.9}{1759.3}{321.1}{1771.3}{rgb,255:red,255;green,22;blue,92}
\swatch{321.1}{1759.3}{341.2}{1771.3}{rgb,255:red,254;green,153;blue,0}
\swatch{341.2}{1759.3}{361.4}{1771.3}{rgb,255:red,245;green,246;blue,216}
\swatch{361.4}{1759.3}{381.5}{1771.3}{rgb,255:red,59;green,189;blue,214}
\swatch{381.5}{1759.3}{401.7}{1771.3}{rgb,255:red,150;green,222;blue,200}
\swatch{401.7}{1759.3}{421.8}{1771.3}{rgb,255:red,205;green,208;blue,202}
\node[anchor=west,font=\bdf,inner sep=0pt] at (axis cs:242.3,1767.7) {Cluster};
\node[anchor=east,rotate=90,font=\lgf,inner sep=0pt] at (axis cs:311,1775) {C1};
\node[anchor=east,rotate=90,font=\lgf,inner sep=0pt] at (axis cs:331,1775) {C2};
\node[anchor=east,rotate=90,font=\lgf,inner sep=0pt] at (axis cs:351,1775) {C3};
\node[anchor=east,rotate=90,font=\lgf,inner sep=0pt] at (axis cs:371.5,1775) {C4};
\node[anchor=east,rotate=90,font=\lgf,inner sep=0pt] at (axis cs:391.5,1775) {C5};
\node[anchor=east,rotate=90,font=\lgf,inner sep=0pt] at (axis cs:412,1775) {NA};
% lineage key
\swatch{1170}{1490.9}{1181}{1511.1}{rgb,255:red,236;green,68;blue,68}
\swatch{1170}{1511.1}{1181}{1531.4}{rgb,255:red,90;green,167;blue,165}
\swatch{1170}{1531.4}{1181}{1551.6}{rgb,255:red,0;green,173;blue,181}
\swatch{1170}{1551.6}{1181}{1571.9}{rgb,255:red,112;green,200;blue,202}
\swatch{1170}{1571.9}{1181}{1592.1}{rgb,255:red,168;green,227;blue,233}
\swatch{1170}{1592.1}{1181}{1612.3}{rgb,255:red,200;green,240;blue,242}
\swatch{1170}{1612.3}{1181}{1632.6}{rgb,255:red,225;green,250;blue,250}
\swatch{1170}{1632.6}{1181}{1652.8}{rgb,255:red,247;green,247;blue,248}
\swatch{1170}{1652.8}{1181}{1673.1}{rgb,255:red,168;green,215;blue,233}
\swatch{1170}{1673.1}{1181}{1693.3}{rgb,255:red,203;green,221;blue,248}
\swatch{1170}{1693.3}{1181}{1713.5}{rgb,255:red,203;green,168;blue,230}
\swatch{1170}{1713.5}{1181}{1733.8}{rgb,255:red,230;green,216;blue,234}
\swatch{1170}{1733.8}{1181}{1754}{rgb,255:red,195;green,190;blue,235}
\node[anchor=west,font=\lgf,inner sep=0pt] at (axis cs:1186,1501) {A};
\node[anchor=west,font=\lgf,inner sep=0pt] at (axis cs:1186,1521) {B};
\node[anchor=west,font=\lgf,inner sep=0pt] at (axis cs:1186,1541.5) {B.1};
\node[anchor=west,font=\lgf,inner sep=0pt] at (axis cs:1186,1562) {B.1.1.1};
\node[anchor=west,font=\lgf,inner sep=0pt] at (axis cs:1186,1582) {B.1.1.162};
\node[anchor=west,font=\lgf,inner sep=0pt] at (axis cs:1186,1602.5) {B.1.1.197};
\node[anchor=west,font=\lgf,inner sep=0pt] at (axis cs:1186,1623) {B.1.1.29};
\node[anchor=west,font=\lgf,inner sep=0pt] at (axis cs:1186,1643) {B.1.1.303};
\node[anchor=west,font=\lgf,inner sep=0pt] at (axis cs:1186,1664) {B.1.1.75};
\node[anchor=west,font=\lgf,inner sep=0pt] at (axis cs:1186,1684) {B.1.36};
\node[anchor=west,font=\lgf,inner sep=0pt] at (axis cs:1186,1704.5) {B.1.468};
\node[anchor=west,font=\lgf,inner sep=0pt] at (axis cs:1186,1725) {B.4};
\node[anchor=west,font=\lgf,inner sep=0pt] at (axis cs:1186,1745) {B.6};
\node[anchor=west,font=\bdf,inner sep=0pt] at (axis cs:1148.3,1765.5) {Lineage};
% other titles
\node[anchor=east,font=\bdf,inner sep=0pt] at (axis cs:843,1755) {MAF};
\node[anchor=east,font=\bdf,inner sep=0pt] at (axis cs:1098.6,50.3) {Age};
\node[anchor=west,font=\bdf,inner sep=0pt] at (axis cs:1126.4,86) {Days after first sampling};
\node[anchor=west,font=\lgf,inner sep=0pt] at (axis cs:1194.7,105.7) {2020-03-16};
\node[anchor=west,font=\lgf,inner sep=0pt] at (axis cs:1194.7,305) {2020-06-01};
\end{axis}
% main heat map
\begin{axis}[at={({283.5*0.5pt},{53.3*0.5pt})},anchor=south west,scale only axis,width=378.45pt,height=814.1pt,
 xmin=0.5,xmax=31.5,ymin=-0.5,ymax=149.5,y dir=reverse,clip=false,axis line style={draw=none},major tick length=0pt,
 ytick=\empty,xtick={1,...,31},xticklabel pos=upper,
 xticklabels={28882*,28881*,28883*,4002*,23731*,10097*,13536*,18603*,28878*,18877*,26735*,23929*,13730*,6312*,28311*,313*,24912*,27970*,29253*,29810*,1613*,28378*,23403*,14408*,241*,3037*,25563*,11083*,22477*,2416*,8371*},
 x tick label style={rotate=90,anchor=west,inner sep=0pt,font=\fontsize{6.6}{7}\selectfont},
 colormap={mafbins}{rgb255(0)=(169,207,205) rgb255(1)=(214,212,150) rgb255(2)=(228,213,138) rgb255(3)=(242,214,118) rgb255(4)=(253,212,105) rgb255(5)=(254,188,100) rgb255(6)=(254,168,96) rgb255(7)=(254,142,92) rgb255(8)=(253,108,90) rgb255(9)=(252,94,90)},
 point meta min=0,point meta max=9]
\pgfplotsinvokeforeach{1,...,31}{
\addplot[scatter,only marks,scatter src=explicit,mark=cellM,mark options={solid,line width=.6pt},
 scatter/use mapped color={draw=cellgray,fill=mapped color}] table[x expr=#1,y expr=\coordindex,meta=c#1]{\heat};
}
\end{axis}
% annotation columns
\annot{212.8}{g}{rgb255(0)=(114,199,183) rgb255(1)=(239,76,81) rgb255(2)=(205,208,202)}{0}{2}{ytick={0,...,149},yticklabels from table={\heat}{name},y tick label style={anchor=west,xshift=-20.4pt,inner sep=0pt,font=\fontsize{5.6}{6}\selectfont}}
\annot{239}{d}{rgb255(0)=(254,122,80) rgb255(1)=(254,175,106) rgb255(2)=(253,214,107) rgb255(3)=(142,155,94) rgb255(4)=(205,208,202)}{0}{4}{}
\annot{265.85}{k}{rgb255(0)=(255,22,92) rgb255(1)=(254,153,0) rgb255(2)=(245,246,216) rgb255(3)=(59,189,214) rgb255(4)=(150,222,200) rgb255(5)=(205,208,202)}{0}{5}{}
\annot{1057.3}{l}{rgb255(0)=(236,68,68) rgb255(1)=(90,167,165) rgb255(2)=(0,173,181) rgb255(3)=(112,200,202) rgb255(4)=(168,227,233) rgb255(5)=(200,240,242) rgb255(6)=(225,250,250) rgb255(7)=(247,247,248) rgb255(8)=(168,215,233) rgb255(9)=(203,221,248) rgb255(10)=(203,168,230) rgb255(11)=(230,216,234) rgb255(12)=(195,190,235)}{0}{12}{}
\annot{1082.7}{a}{rgb255(0)=(221,221,221) rgb255(39)=(221,221,221) rgb255(40)=(102,166,30) rgb255(850)=(231,41,138)}{0}{85}{}
\annot{1108.4}{t}{rgb255(0)=(221,221,221) rgb255(49)=(221,221,221) rgb255(50)=(255,59,112) rgb255(820)=(154,0,148)}{-5}{77}{}
% MAF bar
\begin{axis}[at={({851*0.5pt},{36*0.5pt})},anchor=south west,scale only axis,width=94.5pt,height=5pt,xmin=0,xmax=1,ymin=0,ymax=1,
 axis line style={draw=none},ytick=\empty,xtick={0,0.2,0.4,0.6,0.8,1},xticklabels={0,0.2,0.4,0.6,0.8,1},xtick pos=bottom,tick align=outside,major tick length=3.5pt,
 tick style={black,line width=.5pt},x tick label style={font=\lgf,inner sep=1pt},
 colormap={mafbar}{rgb255(0)=(169,207,205) rgb255(50)=(253,214,107) rgb255(100)=(252,90,90)},point meta min=0,point meta max=1]
\addplot[matrix plot*,mesh/cols=25,point meta=x] coordinates {
(.02,.25)(.06,.25)(.10,.25)(.14,.25)(.18,.25)(.22,.25)(.26,.25)(.30,.25)(.34,.25)(.38,.25)(.42,.25)(.46,.25)(.50,.25)(.54,.25)(.58,.25)(.62,.25)(.66,.25)(.70,.25)(.74,.25)(.78,.25)(.82,.25)(.86,.25)(.90,.25)(.94,.25)(.98,.25)
(.02,.75)(.06,.75)(.10,.75)(.14,.75)(.18,.75)(.22,.75)(.26,.75)(.30,.75)(.34,.75)(.38,.75)(.42,.75)(.46,.75)(.50,.75)(.54,.75)(.58,.75)(.62,.75)(.66,.75)(.70,.75)(.74,.75)(.78,.75)(.82,.75)(.86,.75)(.90,.75)(.94,.75)(.98,.75)
};
\end{axis}
% Age bar
\begin{axis}[at={({1108.4*0.5pt},{1741*0.5pt})},anchor=south west,scale only axis,width=100.65pt,height=5.65pt,xmin=4,xmax=85,ymin=0,ymax=1,
 axis line style={draw=none},ytick=\empty,xtick={4,20,40,60,85},xticklabels={4,20,40,60,85},xtick pos=top,xticklabel pos=upper,tick align=outside,major tick length=2.8pt,
 tick style={black,line width=.5pt},x tick label style={font=\lgf,inner sep=1pt},
 colormap={agebar}{rgb255(0)=(221,221,221) rgb255(39)=(221,221,221) rgb255(40)=(102,166,30) rgb255(850)=(231,41,138)},point meta min=0,point meta max=85]
\addplot[matrix plot*,mesh/cols=10,point meta=x] coordinates {
(8.05,.25)(16.15,.25)(24.25,.25)(32.35,.25)(40.45,.25)(48.55,.25)(56.65,.25)(64.75,.25)(72.85,.25)(80.95,.25)
(8.05,.75)(16.15,.75)(24.25,.75)(32.35,.75)(40.45,.75)(48.55,.75)(56.65,.75)(64.75,.75)(72.85,.75)(80.95,.75)
};
\end{axis}
% Days bar
\begin{axis}[at={({1178.3*0.5pt},{1489*0.5pt})},anchor=south west,scale only axis,width=5.35pt,height=100.8pt,xmin=0,xmax=1,ymin=0,ymax=77,y dir=reverse,
 axis line style={draw=none},xtick=\empty,ytick={0,16.6,39.3,61.9,77},yticklabels={0,20,40,60,77},ytick pos=left,tick align=outside,major tick length=3.3pt,
 tick style={black,line width=.5pt},y tick label style={font=\lgf,inner sep=1pt},
 colormap={daybar}{rgb255(0)=(221,221,221) rgb255(49)=(221,221,221) rgb255(50)=(255,59,112) rgb255(820)=(154,0,148)},point meta min=-5,point meta max=77]
\addplot[matrix plot*,mesh/cols=2,point meta=y] coordinates {
(.25,3.85)(.75,3.85)(.25,11.55)(.75,11.55)(.25,19.25)(.75,19.25)(.25,26.95)(.75,26.95)(.25,34.65)(.75,34.65)
(.25,42.35)(.75,42.35)(.25,50.05)(.75,50.05)(.25,57.75)(.75,57.75)(.25,65.45)(.75,65.45)(.25,73.15)(.75,73.15)
};
\end{axis}
\end{tikzpicture}
\end{document}
